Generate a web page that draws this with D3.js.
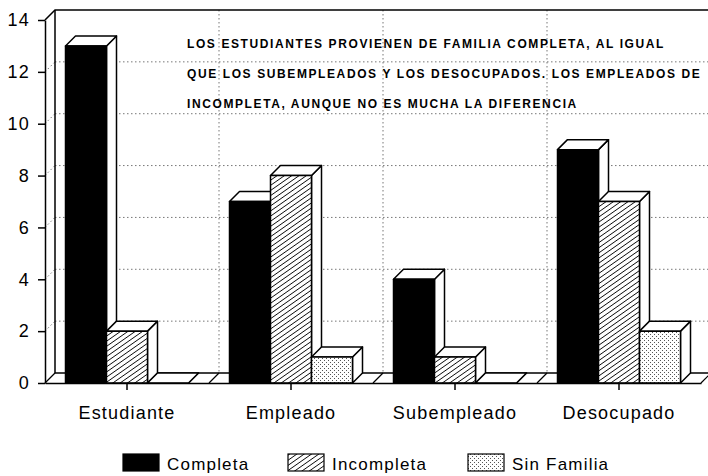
<!DOCTYPE html>
<html lang="es">
<head>
<meta charset="utf-8">
<title>Tipo de familia por ocupacion</title>
<script src="https://cdnjs.cloudflare.com/ajax/libs/d3/7.8.5/d3.min.js"></script>
<style>
  body { margin: 0; background: #fff; }
  svg { display: block; font-family: "Liberation Sans", Arial, sans-serif; }
  .grid { stroke: #777; stroke-width: 1; stroke-dasharray: 1.5,2.5; fill: none; }
  .wall { stroke: #000; stroke-width: 1.5; fill: none; }
  .axis text { font-size: 18px; fill: #000; letter-spacing: 1.2px; }
  .axis line, .axis path { stroke: #000; stroke-width: 1.5; }
  .note { font-size: 12px; font-weight: bold; letter-spacing: 1.6px; fill: #000; }
  .legend text { font-size: 17px; letter-spacing: 1.2px; }
</style>
</head>
<body>
<div id="chart"></div>
<script>
// data
var categories = ["Estudiante", "Empleado", "Subempleado", "Desocupado"];
var series = ["Completa", "Incompleta", "Sin Familia"];
var completa = [13, 7, 4, 9];
var incompleta = [2, 8, 1, 7];
var sinFamilia = [0, 1, 0, 2];
var yTicks = [0, 2, 4, 6, 8, 10, 12, 14];
var noteLines = [
  "LOS ESTUDIANTES PROVIENEN DE FAMILIA COMPLETA, AL IGUAL",
  "QUE LOS SUBEMPLEADOS Y LOS DESOCUPADOS. LOS EMPLEADOS DE",
  "INCOMPLETA, AUNQUE NO ES MUCHA LA DIFERENCIA"
];

var width = 708, height = 476;
var dx = 10, dy = 10;   // 3d depth offset
var values = [completa, incompleta, sinFamilia];

var svg = d3.select("#chart").append("svg")
  .attr("width", width).attr("height", height);

// fills
var defs = svg.append("defs");
var hatch = defs.append("pattern").attr("id", "hatch")
  .attr("patternUnits", "userSpaceOnUse").attr("width", 4.2).attr("height", 4.2)
  .attr("patternTransform", "rotate(-35)");
hatch.append("rect").attr("width", 4.2).attr("height", 4.2).attr("fill", "#fff");
hatch.append("line").attr("x1", 0).attr("y1", 0).attr("x2", 4.2).attr("y2", 0)
  .attr("stroke", "#000").attr("stroke-width", 1.6);
var dots = defs.append("pattern").attr("id", "dots")
  .attr("patternUnits", "userSpaceOnUse").attr("width", 4).attr("height", 4);
dots.append("rect").attr("width", 4).attr("height", 4).attr("fill", "#fff");
dots.append("rect").attr("x", 0).attr("y", 0).attr("width", 1).attr("height", 1).attr("fill", "#555");
dots.append("rect").attr("x", 2).attr("y", 2).attr("width", 1).attr("height", 1).attr("fill", "#555");
var fills = ["#000", "url(#hatch)", "url(#dots)"];

// scales
var x0 = d3.scaleBand().domain(categories).range([45, 701]);
var x1 = d3.scaleBand().domain(series).range([0, x0.bandwidth()]).paddingOuter(0.5);
var y = d3.scaleLinear().domain([0, 14]).range([383, 20]);

var left = x0.range()[0], right = x0.range()[1];

// grid on back and left wall
yTicks.filter(function(v){ return v > 0 && v < 14; }).forEach(function(v){
  svg.append("line").attr("class", "grid")
    .attr("x1", left + dx).attr("x2", width).attr("y1", y(v) - dy).attr("y2", y(v) - dy);
  svg.append("line").attr("class", "grid")
    .attr("x1", left).attr("x2", left + dx).attr("y1", y(v)).attr("y2", y(v) - dy);
});
categories.slice(1).forEach(function(c){
  svg.append("line").attr("class", "grid")
    .attr("x1", x0(c) + dx).attr("x2", x0(c) + dx)
    .attr("y1", y(14) - dy).attr("y2", y(0) - dy);
});

// walls
svg.append("path").attr("class", "wall")
  .attr("d", "M" + left + "," + y(14) + "L" + (left + dx) + "," + (y(14) - dy) + "H" + width);
svg.append("path").attr("class", "wall")
  .attr("d", "M" + (left + dx) + "," + (y(14) - dy) + "V" + (y(0) - dy) + "H" + width);
// floor diagonals at category boundaries
categories.map(function(c){ return x0(c); }).concat([right]).forEach(function(xb){
  svg.append("line").attr("stroke", "#000").attr("stroke-width", 1.2)
    .attr("x1", xb).attr("y1", y(0)).attr("x2", xb + dx).attr("y2", y(0) - dy);
});

// note
var note = svg.append("g");
noteLines.forEach(function(t, i){
  note.append("text").attr("class", "note")
    .attr("x", 187).attr("y", 48 + i * 30).text(t);
});

// bars drawn left to right
var bars = svg.append("g");
categories.forEach(function(c, ci){
  series.forEach(function(s, si){
    var v = values[si][ci];
    var xa = x0(c) + x1(s), xb = xa + x1.bandwidth();
    var yt = y(v), yb = y(0);
    var g = bars.append("g").attr("stroke", "#000").attr("stroke-width", 1.5)
      .attr("stroke-linejoin", "round");
    // side
    g.append("path").attr("fill", "#fff")
      .attr("d", "M" + xb + "," + yb + "L" + (xb + dx) + "," + (yb - dy) +
        "L" + (xb + dx) + "," + (yt - dy) + "L" + xb + "," + yt + "Z");
    // top
    g.append("path").attr("fill", "#fff")
      .attr("d", "M" + xa + "," + yt + "L" + (xa + dx) + "," + (yt - dy) +
        "L" + (xb + dx) + "," + (yt - dy) + "L" + xb + "," + yt + "Z");
    // front
    if (v > 0) {
      g.append("rect").attr("x", xa).attr("y", yt)
        .attr("width", x1.bandwidth()).attr("height", yb - yt).attr("fill", fills[si]);
    }
  });
});

// axes
svg.append("g").attr("class", "axis")
  .attr("transform", "translate(" + left + ",0)")
  .call(d3.axisLeft(y).tickValues(yTicks).tickSize(7).tickSizeOuter(0).tickPadding(8));
svg.append("g").attr("class", "axis")
  .attr("transform", "translate(0," + y(0) + ")")
  .call(d3.axisBottom(x0).tickSize(7).tickSizeOuter(0).tickPadding(16))
  .selectAll("text").attr("dy", "0.71em");

// legend
var legendX = [123, 288, 468];
var legend = svg.append("g").attr("class", "legend");
series.forEach(function(s, i){
  legend.append("rect").attr("x", legendX[i]).attr("y", 454)
    .attr("width", 36).attr("height", 17)
    .attr("fill", fills[i]).attr("stroke", "#000").attr("stroke-width", 1.2);
  legend.append("text").attr("x", legendX[i] + 44).attr("y", 470).text(s);
});
</script>
</body>
</html>
